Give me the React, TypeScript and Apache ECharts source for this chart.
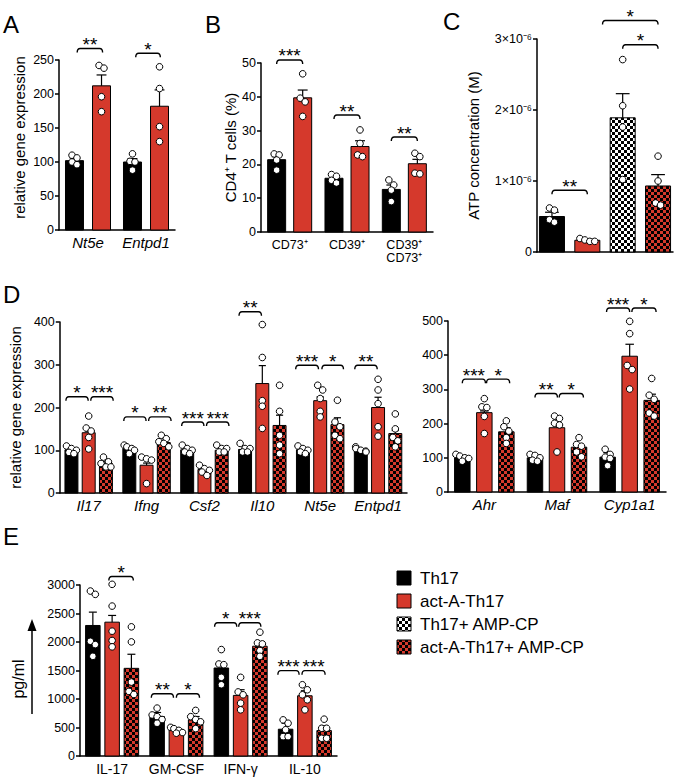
import React, { useEffect, useRef } from 'react';
import * as echarts from 'echarts';

const FONT = '"Liberation Sans", Arial, Helvetica, sans-serif';
const RED = '#D5392C';

// ---------- Panel A : relative gene expression ----------
const catsA = ['Nt5e', 'Entpd1'];
const meanA_th17 = [102, 100];
const semA_th17 = [106, 105];
const dotsA_th17 = [[110, 106, 100, 96], [112, 101, 100, 88]];
const meanA_act = [212, 182];
const semA_act = [228, 206];
const dotsA_act = [[238, 242, 196, 174], [240, 208, 152, 130]];
// [group, fromSlot, toSlot, level, label]
const sigA: [number, number, number, number, string][] = [
  [0, 0.1, 1.04, 267, '**'],
  [1, 0.12, 1.03, 260, '*'],
];

// ---------- Panel B : CD4+ T cells (%) ----------
const catsB = ['CD73⁺', 'CD39⁺', 'CD39⁺\nCD73⁺'];
const meanB_th17 = [21.4, 15.9, 12.6];
const semB_th17 = [22.3, 16.6, 13.9];
const dotsB_th17 = [[22.8, 23.1, 21.3, 18.3], [17, 16.5, 15.3, 14.5], [15.4, 13.9, 12.4, 9]];
const meanB_act = [39.7, 25.3, 20.2];
const semB_act = [42, 27, 21.5];
const dotsB_act = [[46.8, 39.6, 38.5, 34.2], [30.2, 26.2, 22.3, 22.8], [23.3, 22.3, 17.2, 17.4]];
const sigB: [number, number, number, number, string][] = [
  [0, 0, 1, 50.9, '***'],
  [1, 0, 1, 34.6, '**'],
  [2, 0, 1, 28.1, '**'],
];

// ---------- Panel C : ATP concentration (x10^-6 M) ----------
const catsC = [''];
const meanC = [0.5, 0.165, 1.89, 0.93];
const semC = [0.56, 0.18, 2.23, 1.09];
const dotsC = [[0.62, 0.59, 0.42, 0.455], [0.15, 0.15, 0.17, 0.19], [2.71, 2.06, 1.76, 1.02], [1.35, 1.0, 0.66, 0.69]];
const sigC: [number, number, number, number, string][] = [
  [0, 0, 1, 0.87, '**'],
  [0, 2, 3, 2.92, '*'],
  [0, 1.43, 3, 3.26, '*'],
];

// ---------- Panel D left ----------
const catsDL = ['Il17', 'Ifng', 'Csf2', 'Il10', 'Nt5e', 'Entpd1'];
const meanDL_th17 = [101, 104, 101, 102, 101, 101];
const semDL_th17 = [104, 107, 104, 105, 104, 104];
const dotsDL_th17 = [
  [110, 104, 100, 95, 92], [112, 108, 104, 100, 92], [112, 104, 100, 96, 92],
  [116, 104, 104, 96, 96], [110, 104, 100, 96, 92], [108, 104, 100, 98, 96],
];
const meanDL_act = [141, 65, 55, 256, 216, 200];
const semDL_act = [145, 70, 58, 298, 225, 224];
const dotsDL_act = [
  [180, 152, 145, 130, 103], [84, 80, 77, 22], [65, 57, 53, 49, 41],
  [394, 317, 216, 203, 151], [252, 241, 221, 191, 178], [266, 241, 209, 155, 133],
];
const meanDL_amp = [69, 118, 100, 158, 160, 139];
const semDL_amp = [73, 123, 104, 182, 176, 146];
const dotsDL_amp = [
  [84, 73, 69, 61, 61], [135, 127, 120, 116, 108], [112, 104, 104, 96, 96],
  [252, 191, 135, 112, 92], [217, 166, 155, 135, 127], [185, 150, 130, 122, 108],
];
const sigDL: [number, number, number, number, string][] = [
  [0, -0.32, 0.97, 225, '*'], [0, 1.12, 2.42, 225, '***'],
  [1, -0.32, 0.97, 178, '*'], [1, 1.12, 2.42, 178, '**'],
  [2, -0.32, 0.97, 166, '***'], [2, 1.12, 2.42, 166, '***'],
  [3, -0.35, 0.95, 424, '**'],
  [4, -0.42, 0.9, 299, '***'], [4, 1.1, 2.35, 299, '*'],
  [5, -0.35, 0.95, 299, '**'],
];

// ---------- Panel D right ----------
const catsDR = ['Ahr', 'Maf', 'Cyp1a1'];
const meanDR_th17 = [100, 100, 102];
const semDR_th17 = [104, 104, 115];
const dotsDR_th17 = [[110, 105, 100, 98, 90], [110, 107, 100, 93, 90], [125, 110, 102, 98, 77]];
const meanDR_act = [232, 188, 397];
const semDR_act = [237, 200, 432];
const dotsDR_act = [[273, 249, 247, 221, 171], [222, 215, 201, 196, 117], [499, 463, 370, 358, 301]];
const meanDR_amp = [176, 131, 268];
const semDR_amp = [188, 136, 286];
const dotsDR_amp = [[208, 191, 178, 159, 142], [159, 139, 134, 117, 103], [332, 283, 271, 231, 222]];
const sigDR: [number, number, number, number, string][] = [
  [0, 0, 1.05, 330, '***'], [0, 1.1, 2.15, 330, '*'],
  [1, 0, 1.02, 288, '**'], [1, 1.1, 2.2, 288, '*'],
  [2, -0.05, 1.0, 538, '***'], [2, 1.1, 2.2, 538, '*'],
];

// ---------- Panel E : cytokines pg/ml ----------
const catsE = ['IL-17', 'GM-CSF', 'IFN-γ', 'IL-10'];
const meanE_th17 = [2290, 693, 1544, 470];
const semE_th17 = [2524, 763, 1632, 575];
const dotsE_th17 = [[2894, 2836, 2013, 1955, 1749], [840, 720, 690, 640, 575], [1867, 1614, 1602, 1380, 1250], [634, 575, 461, 340, 340]];
const meanE_act = [2348, 458, 1063, 1057];
const semE_act = [2466, 490, 1163, 1145];
const dotsE_act = [[3012, 2630, 2190, 2026, 1915], [520, 480, 450, 430, 400], [1380, 1124, 1074, 927, 810], [1250, 1162, 1074, 986, 810]];
const meanE_amp = [1538, 634, 1926, 446];
const semE_amp = [1785, 693, 1985, 528];
const dotsE_amp = [[2266, 2002, 1297, 1133, 1080], [800, 690, 640, 600, 480], [2172, 1985, 1967, 1850, 1749], [646, 487, 487, 311, 311]];
const sigE: [number, number, number, number, string][] = [
  [0, 0.83, 2.1, 3148, '*'],
  [1, -0.3, 0.85, 1092, '**'], [1, 1.0, 2.2, 1092, '*'],
  [2, -0.35, 0.8, 2337, '*'], [2, 0.9, 2.05, 2337, '***'],
  [3, -0.4, 0.7, 1497, '***'], [3, 0.85, 2.05, 1497, '***'],
];

const legendNames = ['Th17', 'act-A-Th17', 'Th17+ AMP-CP', 'act-A-Th17+ AMP-CP'];

type Rec = { g: number; slot: number; n: number; mean: number; sem: number; dots: number[]; fill: any };

function checker(c1: string, c2: string, cell = 3) {
  const cv = document.createElement('canvas');
  cv.width = cell * 2;
  cv.height = cell * 2;
  const ctx = cv.getContext('2d')!;
  ctx.fillStyle = c1;
  ctx.fillRect(0, 0, cell * 2, cell * 2);
  ctx.fillStyle = c2;
  ctx.fillRect(0, 0, cell, cell);
  ctx.fillRect(cell, cell, cell, cell);
  return { image: cv, repeat: 'repeat', imageWidth: cell * 2, imageHeight: cell * 2 };
}

function buildRecs(conds: { mean: number[]; sem: number[]; dots: number[][]; fill: any }[]): Rec[] {
  const out: Rec[] = [];
  const nG = conds[0].mean.length;
  for (let g = 0; g < nG; g++) {
    conds.forEach((c, k) => {
      out.push({ g, slot: k, n: conds.length, mean: c.mean[g], sem: c.sem[g], dots: c.dots[g], fill: c.fill });
    });
  }
  return out;
}

const R = 3.3;

function barSeries(idx: number, recs: Rec[], bwFrac: number, stepFrac: number) {
  return {
    type: 'custom',
    xAxisIndex: idx,
    yAxisIndex: idx,
    clip: false,
    silent: true,
    data: recs.map((r) => [r.g, r.mean]),
    encode: { x: 0, y: 1 },
    renderItem: (params: any, api: any) => {
      const r = recs[params.dataIndex];
      const band = api.size([1, 0])[0];
      const base = api.coord([r.g, 0]);
      const cx = base[0] + (r.slot - (r.n - 1) / 2) * stepFrac * band;
      const y0 = base[1];
      const yTop = api.coord([r.g, r.mean])[1];
      const ySem = api.coord([r.g, r.sem])[1];
      const bw = bwFrac * band;
      const cap = bw * 0.55;
      const children: any[] = [];
      children.push({
        type: 'rect',
        shape: { x: cx - bw / 2, y: yTop, width: bw, height: y0 - yTop },
        style: { fill: r.fill, stroke: '#000', lineWidth: 1 },
      });
      children.push({
        type: 'line',
        shape: { x1: cx, y1: yTop, x2: cx, y2: ySem },
        style: { stroke: '#000', lineWidth: 1.2 },
      });
      children.push({
        type: 'line',
        shape: { x1: cx - cap / 2, y1: ySem, x2: cx + cap / 2, y2: ySem },
        style: { stroke: '#000', lineWidth: 1.2 },
      });
      // compact beeswarm: dots that overlap vertically share a row, centred on the bar
      const ys = r.dots.map((v) => api.coord([r.g, v])[1]).sort((a: number, b: number) => a - b);
      const rows: number[][] = [];
      ys.forEach((py: number) => {
        const last = rows[rows.length - 1];
        if (last && py - last[0] < R * 1.6) last.push(py);
        else rows.push([py]);
      });
      const maxOff = Math.max(0, bw / 2 - R * 0.4);
      rows.forEach((row) => {
        row.forEach((py, i) => {
          let off = (i - (row.length - 1) / 2) * R * 1.5;
          off = Math.max(-maxOff, Math.min(maxOff, off));
          children.push({
            type: 'circle',
            shape: { cx: cx + off, cy: py, r: R },
            style: { fill: '#fff', stroke: '#000', lineWidth: 1 },
          });
        });
      });
      return { type: 'group', children };
    },
  };
}

function sigSeries(idx: number, sigs: [number, number, number, number, string][], n: number, stepFrac: number) {
  return {
    type: 'custom',
    xAxisIndex: idx,
    yAxisIndex: idx,
    clip: false,
    silent: true,
    z: 5,
    data: sigs.map((s) => [s[0], s[3]]),
    encode: { x: 0, y: 1 },
    renderItem: (params: any, api: any) => {
      const s = sigs[params.dataIndex];
      const band = api.size([1, 0])[0];
      const c = api.coord([s[0], s[3]]);
      const x1 = c[0] + (s[1] - (n - 1) / 2) * stepFrac * band;
      const x2 = c[0] + (s[2] - (n - 1) / 2) * stepFrac * band;
      const y = c[1];
      const h = 4;
      return {
        type: 'group',
        children: [
          {
            type: 'path',
            shape: {
              pathData: `M${x1} ${y + h} Q${x1} ${y} ${x1 + 3} ${y} L${x2 - 3} ${y} Q${x2} ${y} ${x2} ${y + h}`,
            },
            style: { fill: 'none', stroke: '#000', lineWidth: 1.4 },
          },
          {
            type: 'text',
            x: (x1 + x2) / 2,
            y: y - 4,
            style: {
              text: s[4],
              fill: '#000',
              fontSize: 19,
              fontFamily: FONT,
              align: 'center',
              verticalAlign: 'middle',
            },
          },
        ],
      };
    },
  };
}

const axisLineStyle = { color: '#000', width: 1.5 };

function xAx(idx: number, cats: string[], italic: boolean, fontSize: number, showLabel = true) {
  return {
    gridIndex: idx,
    type: 'category',
    data: cats,
    axisLine: { show: true, onZero: false, lineStyle: axisLineStyle },
    axisTick: { show: false },
    axisLabel: {
      show: showLabel,
      interval: 0,
      color: '#000',
      fontSize,
      fontStyle: italic ? 'italic' : 'normal',
      fontFamily: FONT,
      margin: 6,
      lineHeight: 13,
    },
    splitLine: { show: false },
  };
}

function yAx(idx: number, max: number, interval: number, name: string, nameGap: number, extra: any = {}) {
  return {
    gridIndex: idx,
    type: 'value',
    min: 0,
    max,
    interval,
    axisLine: { show: true, lineStyle: axisLineStyle },
    axisTick: { show: true, length: 4, lineStyle: axisLineStyle },
    axisLabel: {
      color: '#000',
      fontSize: 12.5,
      fontFamily: FONT,
      margin: 5,
      formatter: (v: number) => String(v),
      ...(extra.label || {}),
    },
    splitLine: { show: false },
    name,
    nameLocation: 'middle',
    nameRotate: 90,
    nameGap,
    nameTextStyle: { color: '#000', fontSize: 15, fontFamily: FONT, ...(extra.nameStyle || {}) },
  };
}

export default function App() {
  const ref = useRef<HTMLDivElement>(null);
  useEffect(() => {
    const chart = echarts.init(ref.current!, null, { renderer: 'svg' });
    const P_BLACK = checker('#ffffff', '#000000');
    const P_RED = checker(RED, '#000000');
    const fills = ['#000000', RED, P_BLACK, P_RED];

    const recsA = buildRecs([
      { mean: meanA_th17, sem: semA_th17, dots: dotsA_th17, fill: fills[0] },
      { mean: meanA_act, sem: semA_act, dots: dotsA_act, fill: fills[1] },
    ]);
    const recsB = buildRecs([
      { mean: meanB_th17, sem: semB_th17, dots: dotsB_th17, fill: fills[0] },
      { mean: meanB_act, sem: semB_act, dots: dotsB_act, fill: fills[1] },
    ]);
    const recsC: Rec[] = meanC.map((m, k) => ({ g: 0, slot: k, n: 4, mean: m, sem: semC[k], dots: dotsC[k], fill: fills[k] }));
    const recsDL = buildRecs([
      { mean: meanDL_th17, sem: semDL_th17, dots: dotsDL_th17, fill: fills[0] },
      { mean: meanDL_act, sem: semDL_act, dots: dotsDL_act, fill: fills[1] },
      { mean: meanDL_amp, sem: semDL_amp, dots: dotsDL_amp, fill: fills[3] },
    ]);
    const recsDR = buildRecs([
      { mean: meanDR_th17, sem: semDR_th17, dots: dotsDR_th17, fill: fills[0] },
      { mean: meanDR_act, sem: semDR_act, dots: dotsDR_act, fill: fills[1] },
      { mean: meanDR_amp, sem: semDR_amp, dots: dotsDR_amp, fill: fills[3] },
    ]);
    const recsE = buildRecs([
      { mean: meanE_th17, sem: semE_th17, dots: dotsE_th17, fill: fills[0] },
      { mean: meanE_act, sem: semE_act, dots: dotsE_act, fill: fills[1] },
      { mean: meanE_amp, sem: semE_amp, dots: dotsE_amp, fill: fills[3] },
    ]);

    const letter = (t: string, x: number, y: number) => ({
      type: 'text',
      x,
      y,
      style: { text: t, fill: '#000', fontSize: 24, fontFamily: FONT },
    });

    const legendEls: any[] = [];
    legendNames.forEach((nm, i) => {
      const cy = 578 + i * 23;
      legendEls.push({
        type: 'rect',
        shape: { x: 397, y: cy - 7, width: 14, height: 14 },
        style: { fill: fills[i], stroke: '#000', lineWidth: 1 },
      });
      legendEls.push({
        type: 'text',
        x: 420,
        y: cy,
        style: { text: nm, fill: '#000', fontSize: 17, fontFamily: FONT, verticalAlign: 'middle' },
      });
    });

    const option: any = {
      animation: false,
      textStyle: { fontFamily: FONT },
      grid: [
        { left: 59, top: 60, width: 116, height: 170 },
        { left: 261, top: 63, width: 172, height: 169 },
        { left: 537, top: 39, width: 136, height: 213 },
        { left: 59, top: 322, width: 348, height: 171 },
        { left: 448, top: 321, width: 218, height: 171 },
        { left: 80, top: 585, width: 257, height: 171 },
      ],
      xAxis: [
        xAx(0, catsA, true, 15),
        xAx(1, catsB, false, 12.5),
        xAx(2, catsC, false, 12, false),
        xAx(3, catsDL, true, 15),
        xAx(4, catsDR, true, 15),
        xAx(5, catsE, false, 14),
      ],
      yAxis: [
        yAx(0, 250, 50, 'relative gene expression', 32, { nameStyle: { padding: [0, 0, 0, 15] } }),
        yAx(1, 50, 10, 'CD4⁺ T cells (%)', 23),
        yAx(2, 3, 1, 'ATP concentration (M)', 56, {
          label: { formatter: (v: number) => (v === 0 ? '0' : `${v}×10⁻⁶`) },
        }),
        yAx(3, 400, 100, 'relative gene expression', 30),
        yAx(4, 500, 100, '', 30),
        yAx(5, 3000, 500, 'pg/ml', 54, { nameStyle: { fontSize: 16, padding: [0, 17, 0, 0] } }),
      ],
      series: [
        barSeries(0, recsA, 0.31, 0.466),
        sigSeries(0, sigA, 2, 0.466),
        barSeries(1, recsB, 0.314, 0.454),
        sigSeries(1, sigB, 2, 0.454),
        barSeries(2, recsC, 0.184, 0.26),
        sigSeries(2, sigC, 4, 0.26),
        barSeries(3, recsDL, 0.224, 0.298),
        sigSeries(3, sigDL, 3, 0.298),
        barSeries(4, recsDR, 0.213, 0.303),
        sigSeries(4, sigDR, 3, 0.303),
        barSeries(5, recsE, 0.226, 0.3),
        sigSeries(5, sigE, 3, 0.3),
      ],
      graphic: [
        letter('A', 3, 12),
        letter('B', 205, 12),
        letter('C', 443, 9),
        letter('D', 3, 282),
        letter('E', 3, 524),
        {
          type: 'line',
          shape: { x1: 32, y1: 714, x2: 32, y2: 628 },
          style: { stroke: '#000', lineWidth: 1.5 },
        },
        {
          type: 'polygon',
          shape: { points: [[32, 619], [27.5, 631], [36.5, 631]] },
          style: { fill: '#000' },
        },
        ...legendEls,
      ],
    };
    chart.setOption(option);
    return () => chart.dispose();
  }, []);
  return <div ref={ref} style={{ position: 'absolute', left: 0, top: 0, width: 677, height: 778 }} />;
}
